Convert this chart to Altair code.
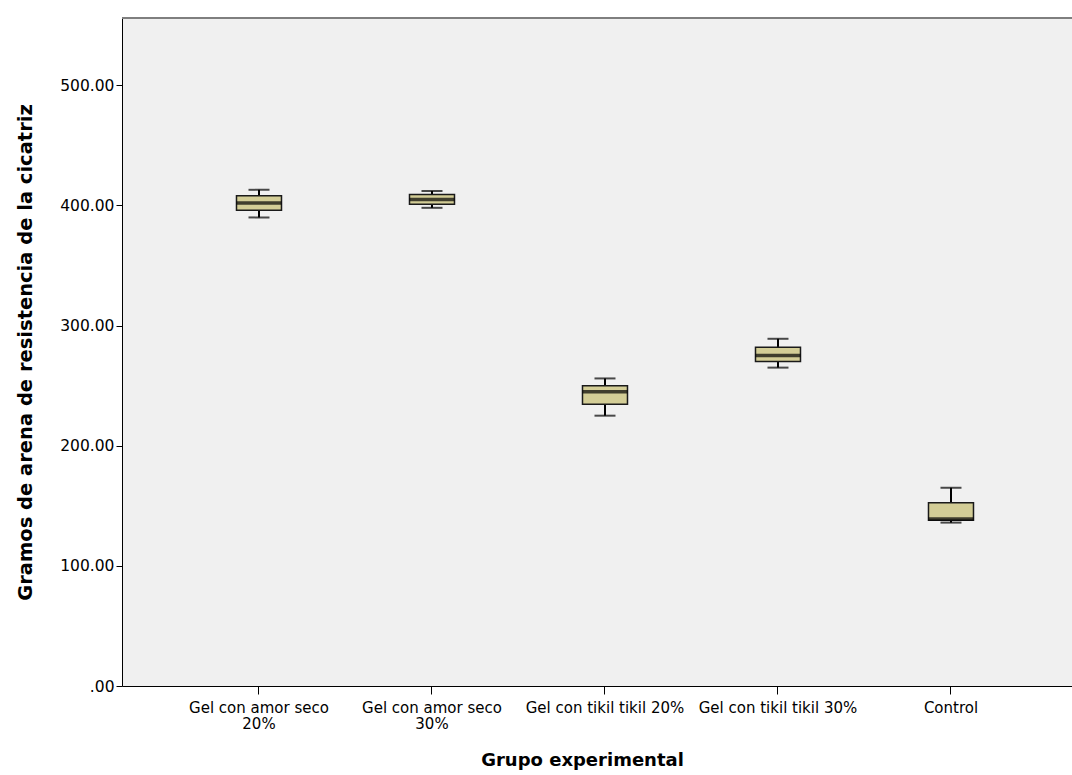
import altair as alt
import pandas as pd

groups = ["Gel con amor seco 20%", "Gel con amor seco 30%", "Gel con tikil tikil 20%",
          "Gel con tikil tikil 30%", "Control"]
lower = [390, 398, 225, 265, 136]
q1 = [396, 401, 234.5, 270, 138]
median = [402, 405, 245, 275, 139]
q3 = [408, 409, 250, 282, 152.5]
upper = [413, 412, 256, 289, 165]
y_ticks = [0, 100, 200, 300, 400, 500]

df = pd.DataFrame({"grupo": groups, "lower": lower, "q1": q1, "median": median,
                   "q3": q3, "upper": upper})

FONT = "DejaVu Sans"
W, H = 950, 668

x = alt.X("grupo:N", sort=groups,
          scale=alt.Scale(paddingInner=0, paddingOuter=0.2457, align=0.594),
          axis=alt.Axis(title="Grupo experimental", labelAngle=0, labelFont=FONT,
                        labelFontSize=15, labelColor="black", labelOverlap=False,
                        labelLimit=300, labelPadding=6, tickSize=8, tickColor="black",
                        domainColor="black", labelLineHeight=16.5,
                        labelExpr="indexof(datum.value, 'amor') >= 0 ? [substring(datum.value, 0, 17), substring(datum.value, 18)] : datum.value",
                        titleFont=FONT, titleFontSize=18, titleFontWeight="bold",
                        titleColor="black", titleX=460, titleY=79,
                        titleBaseline="alphabetic"))
yscale = alt.Scale(domain=[0, 556], nice=False, zero=True)
yaxis = alt.Axis(title="Gramos de arena de resistencia de la cicatriz", values=y_ticks,
                 labelExpr="datum.value == 0 ? '.00' : format(datum.value, '.2f')",
                 labelFont=FONT, labelFontSize=15.5, labelColor="black", grid=False,
                 tickSize=6, tickColor="black", domainColor="black", labelPadding=2,
                 titleFont=FONT, titleFontSize=19.5, titleFontWeight="bold",
                 titleColor="black", titlePadding=24)

base = alt.Chart(df)

whisker = base.mark_rule(color="black", strokeWidth=2).encode(
    x=x, y=alt.Y("lower:Q", scale=yscale, axis=yaxis), y2="upper:Q")
cap_low = base.mark_tick(color="black", size=21, thickness=2).encode(x=x, y="lower:Q")
cap_up = base.mark_tick(color="black", size=21, thickness=2).encode(x=x, y="upper:Q")
box = base.mark_bar(size=45, fill="#D3CD96", stroke="#1a1a1a", strokeWidth=1.5).encode(
    x=x, y="q1:Q", y2="q3:Q")
med = base.mark_tick(color="black", size=45, thickness=3.5).encode(x=x, y="median:Q")
top = alt.Chart(df).mark_rule(color="#7f7f7f", strokeWidth=2).encode(y=alt.value(0))

chart = alt.layer(whisker, cap_low, cap_up, box, med, top).properties(
    width=W, height=H,
    autosize=alt.AutoSizeParams(type="none"),
    padding={"left": 122, "top": 18, "right": 0, "bottom": 89},
    background="white",
).configure_view(fill="#F0F0F0", stroke=None)

chart.save("out.html", embed_options={"renderer": "svg", "actions": False})
